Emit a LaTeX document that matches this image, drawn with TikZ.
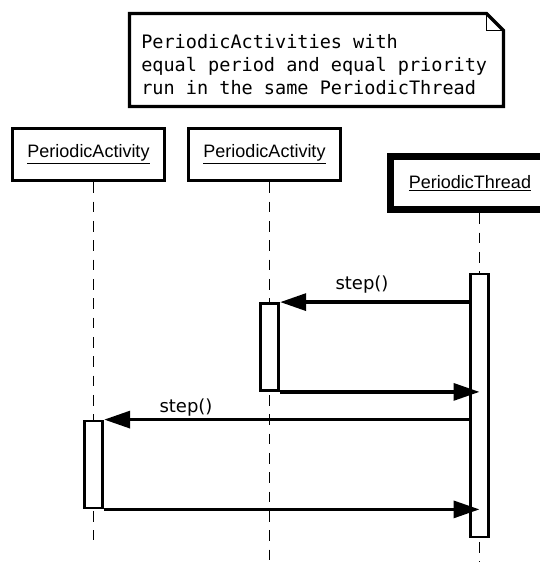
\documentclass[tikz,border=0pt]{standalone}
\usepackage{fontspec}
\setmainfont{Liberation Sans}
\newfontfamily\msgfont{DejaVu Sans}
\newfontfamily\notefont{DejaVu Sans Mono}
\usetikzlibrary{arrows.meta}

\begin{document}
\begin{tikzpicture}[x=0.75pt, y=-0.75pt,
  obj/.style={draw, line width=2.5pt, minimum width=114pt, minimum height=39pt,
    inner sep=0pt, font=\fontsize{13.5}{16}\selectfont},
  thread/.style={obj, line width=5.5pt, minimum width=119.25pt, minimum height=39.75pt},
  act/.style={draw, fill=white, line width=2.1pt, minimum width=13.9pt, inner sep=0pt},
  life/.style={line width=1.2pt, dash pattern=on 8.2pt off 6.3pt},
  msg/.style={line width=2.5pt, -{Triangle[length=19.5pt, width=12.75pt]}},
  lbl/.style={anchor=base, inner sep=0pt, font=\msgfont\fontsize{13.5}{16}\selectfont},
]
  \clip (0,0) rectangle (540,562);

  % Note in the top corner.
  \draw[line width=2.5pt, line join=miter] (129.5,106.5) -- (129.5,13.5) -- (486.5,13.5)
    -- (503.5,30.5) -- (503.5,106.5) -- cycle;
  \draw[line width=1.2pt] (486.5,13.5) -- (486.5,30.5) -- (503.5,30.5);
  \node[anchor=north west, inner sep=0pt, align=left,
    font=\notefont\fontsize{13.9}{17.25}\selectfont] (note) at (141,34.5)
    {PeriodicActivities with\\equal period and equal priority\\run in the same PeriodicThread};

  % Objects and their lifelines.
  \node[obj] (pa1) at (88.5,154.5) {\underline{PeriodicActivity}};
  \node[obj] (pa2) at (264.5,154.5) {\underline{PeriodicActivity}};
  \node[thread] (pt) at (470,183) {\underline{PeriodicThread}};

  \coordinate (end1) at (93.5,540);
  \coordinate (end2) at (269.5,562);
  \coordinate (end3) at (479.5,562);
  \draw[life] (pa1.south -| end1) -- (end1);
  \draw[life] (pa2.south -| end2) -- (end2);
  \draw[life] (pt.south -| end3) -- (end3);

  % Activations.
  \node[act, minimum height=197.25pt] (tact) at (479.5,405.5) {};
  \node[act, minimum height=65.25pt] (act2) at (269.5,347) {};
  \node[act, minimum height=65.25pt] (act1) at (93.5,464.5) {};

  % Calls and returns.
  \draw[msg] (tact.west |- act2.north east) -- (act2.north east);
  \draw[msg] (act2.south east) -- (act2.south east -| tact.center);
  \draw[msg] (tact.west |- act1.north east) -- (act1.north east);
  \draw[msg] (act1.south east) -- (act1.south east -| tact.center);
  \node[lbl] (step2) at (362,289) {step()};
  \node[lbl] (step1) at (186,412) {step()};
\end{tikzpicture}
\end{document}
